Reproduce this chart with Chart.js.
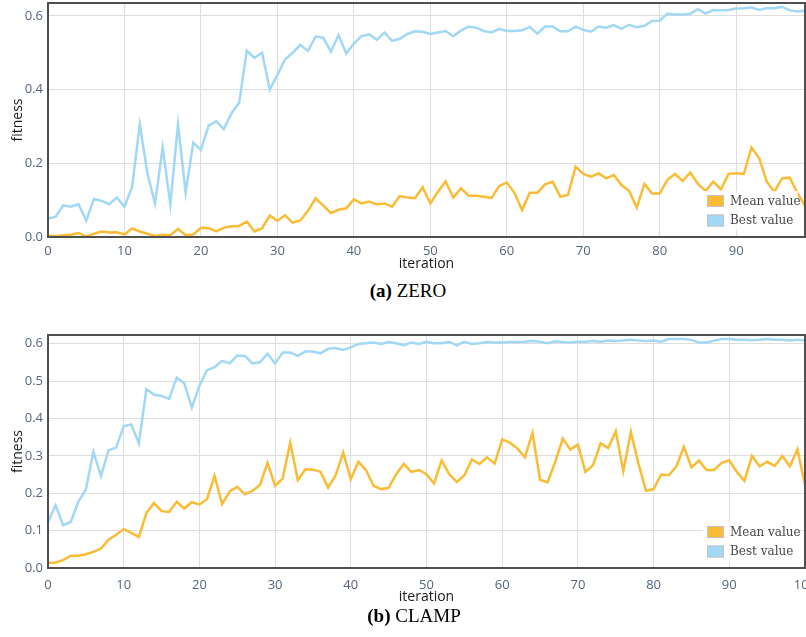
<!DOCTYPE html>
<html>
<head>
<meta charset="utf-8">
<script src="https://cdn.jsdelivr.net/npm/chart.js@4.4.0/dist/chart.umd.min.js"></script>
<style>
  html, body { margin: 0; padding: 0; background: #fff; width: 806px; height: 637px; overflow: hidden; }
  .panel { position: absolute; left: 0; }
  .caption {
    position: absolute; white-space: nowrap; transform: translateX(-50%);
    font-family: "Liberation Serif", "Times New Roman", serif; font-size: 19px; line-height: 1; color: #000;
  }
</style>
</head>
<body>
<div class="panel" style="top:-20px"><canvas id="chartZero" width="830" height="295"></canvas></div>
<div class="caption" style="left:408px; top:281px"><b>(a)</b> ZERO</div>
<div class="panel" style="top:312px"><canvas id="chartClamp" width="830" height="296"></canvas></div>
<div class="caption" style="left:414px; top:606px"><b>(b)</b> CLAMP</div>

<script>
// ---- ZERO run: fitness per iteration ----
const zeroIterations = Array.from({ length: 100 }, (_, i) => i);
const zeroMean = [
  0.004, 0.002, 0.005, 0.006, 0.011, 0.001, 0.009, 0.015, 0.012, 0.013,
  0.007, 0.023, 0.015, 0.009, 0.003, 0.006, 0.005, 0.022, 0.005, 0.007,
  0.025, 0.024, 0.015, 0.025, 0.029, 0.030, 0.042, 0.015, 0.024, 0.058,
  0.044, 0.059, 0.039, 0.045, 0.071, 0.105, 0.085, 0.065, 0.074, 0.078,
  0.102, 0.091, 0.096, 0.088, 0.091, 0.082, 0.111, 0.107, 0.105, 0.135,
  0.091, 0.123, 0.151, 0.107, 0.132, 0.112, 0.112, 0.109, 0.106, 0.138,
  0.148, 0.120, 0.073, 0.120, 0.120, 0.143, 0.150, 0.109, 0.114, 0.191,
  0.171, 0.164, 0.173, 0.159, 0.168, 0.141, 0.125, 0.080, 0.144, 0.118,
  0.118, 0.155, 0.171, 0.152, 0.175, 0.144, 0.125, 0.150, 0.129, 0.171,
  0.173, 0.171, 0.243, 0.214, 0.150, 0.123, 0.159, 0.161, 0.120, 0.085
];
const zeroBest = [
  0.050, 0.055, 0.086, 0.082, 0.089, 0.044, 0.103, 0.098, 0.089, 0.107,
  0.082, 0.136, 0.306, 0.173, 0.091, 0.243, 0.088, 0.306, 0.120, 0.256,
  0.236, 0.302, 0.314, 0.293, 0.336, 0.364, 0.506, 0.486, 0.500, 0.400,
  0.440, 0.482, 0.500, 0.521, 0.505, 0.544, 0.541, 0.503, 0.548, 0.498,
  0.525, 0.545, 0.550, 0.535, 0.555, 0.532, 0.538, 0.551, 0.558, 0.557,
  0.551, 0.555, 0.559, 0.545, 0.560, 0.571, 0.568, 0.559, 0.555, 0.565,
  0.559, 0.559, 0.561, 0.570, 0.552, 0.571, 0.571, 0.558, 0.558, 0.571,
  0.562, 0.557, 0.571, 0.568, 0.575, 0.565, 0.576, 0.569, 0.573, 0.586,
  0.587, 0.606, 0.604, 0.604, 0.606, 0.618, 0.606, 0.616, 0.615, 0.616,
  0.620, 0.621, 0.623, 0.616, 0.621, 0.621, 0.625, 0.615, 0.612, 0.614
];
const zeroXTicks = [0, 10, 20, 30, 40, 50, 60, 70, 80, 90];
const zeroYTicks = [0, 0.2, 0.4, 0.6];

// ---- CLAMP run: fitness per iteration ----
const clampIterations = Array.from({ length: 101 }, (_, i) => i);
const clampMean = [
  0.014, 0.014, 0.021, 0.033, 0.033, 0.037, 0.043, 0.052, 0.076, 0.089,
  0.104, 0.094, 0.083, 0.147, 0.174, 0.152, 0.150, 0.177, 0.159, 0.176,
  0.170, 0.184, 0.246, 0.171, 0.205, 0.217, 0.197, 0.206, 0.222, 0.281,
  0.220, 0.239, 0.335, 0.235, 0.264, 0.263, 0.257, 0.215, 0.248, 0.309,
  0.237, 0.284, 0.262, 0.220, 0.211, 0.214, 0.251, 0.278, 0.257, 0.262,
  0.251, 0.226, 0.288, 0.251, 0.230, 0.248, 0.290, 0.278, 0.296, 0.279,
  0.344, 0.335, 0.320, 0.296, 0.361, 0.236, 0.229, 0.284, 0.346, 0.317,
  0.330, 0.257, 0.275, 0.333, 0.321, 0.366, 0.259, 0.364, 0.279, 0.206,
  0.211, 0.250, 0.248, 0.271, 0.324, 0.269, 0.287, 0.262, 0.262, 0.281,
  0.288, 0.257, 0.233, 0.300, 0.272, 0.284, 0.273, 0.299, 0.272, 0.317,
  0.223
];
const clampBest = [
  0.123, 0.168, 0.114, 0.123, 0.177, 0.210, 0.311, 0.246, 0.315, 0.322,
  0.379, 0.384, 0.333, 0.478, 0.464, 0.460, 0.452, 0.509, 0.494, 0.429,
  0.487, 0.529, 0.537, 0.554, 0.547, 0.568, 0.567, 0.547, 0.550, 0.573,
  0.547, 0.576, 0.576, 0.567, 0.579, 0.579, 0.574, 0.586, 0.588, 0.583,
  0.590, 0.599, 0.601, 0.603, 0.599, 0.604, 0.601, 0.596, 0.603, 0.599,
  0.605, 0.601, 0.601, 0.605, 0.595, 0.605, 0.599, 0.601, 0.604, 0.603,
  0.603, 0.604, 0.604, 0.605, 0.607, 0.605, 0.601, 0.606, 0.604, 0.603,
  0.605, 0.605, 0.607, 0.605, 0.608, 0.607, 0.608, 0.610, 0.608, 0.607,
  0.608, 0.605, 0.612, 0.612, 0.612, 0.610, 0.603, 0.603, 0.608, 0.612,
  0.612, 0.610, 0.610, 0.609, 0.610, 0.612, 0.610, 0.610, 0.608, 0.610,
  0.608
];
const clampXTicks = [0, 10, 20, 30, 40, 50, 60, 70, 80, 90, 100];
const clampYTicks = [0, 0.1, 0.2, 0.3, 0.4, 0.5, 0.6];

const seriesNames = ['Mean value', 'Best value'];
const MEAN_COLOR = '#f9bc34';
const BEST_COLOR = '#a1d8f5';
const TICK_FONT = { family: '"Open Sans", sans-serif', size: 13 };
const TITLE_FONT = { family: '"Open Sans", sans-serif', size: 14 };

// dark frame around the plotting area
const framePlugin = {
  id: 'frame',
  afterDatasetsDraw(chart) {
    const { ctx, chartArea: a } = chart;
    ctx.save();
    ctx.strokeStyle = '#4f4f4f';
    ctx.lineWidth = 2;
    ctx.strokeRect(a.left, a.top, a.right - a.left, a.bottom - a.top);
    ctx.restore();
  }
};

// legend boxes in the lower right corner of the plotting area
const insideLegend = {
  id: 'insideLegend',
  afterDraw(chart) {
    const { ctx, chartArea: a } = chart;
    const boxW = 17, boxH = 12, rowGap = 19.5;
    const x0 = a.right - 98;
    const firstTop = a.bottom - 42;
    const sets = chart.data.datasets;
    ctx.save();
    ctx.fillStyle = 'rgba(255,255,255,0.78)';
    ctx.fillRect(x0 - 4, firstTop - 4, a.right - 7 - (x0 - 4), rowGap * (sets.length - 1) + boxH + 8);
    ctx.font = '12px "DejaVu Serif", serif';
    ctx.textBaseline = 'middle';
    ctx.textAlign = 'left';
    sets.forEach((ds, i) => {
      const top = firstTop + i * rowGap;
      ctx.fillStyle = ds.borderColor;
      ctx.fillRect(x0, top, boxW, boxH);
      ctx.strokeStyle = '#c4c4c4';
      ctx.lineWidth = 1;
      ctx.strokeRect(x0 + 0.5, top + 0.5, boxW - 1, boxH - 1);
      ctx.fillStyle = '#474747';
      ctx.fillText(ds.label, x0 + boxW + 6, top + boxH / 2 + 0.5);
    });
    ctx.restore();
  }
};

function makeChart(id, labels, mean, best, xMax, yMax, xTicks, yTicks, xTickPad, xAxisHeight) {
  return new Chart(document.getElementById(id), {
    type: 'line',
    data: {
      labels: labels,
      datasets: [
        { label: seriesNames[0], data: mean, borderColor: MEAN_COLOR, backgroundColor: MEAN_COLOR,
          borderWidth: 2.5, pointRadius: 0, tension: 0, fill: false },
        { label: seriesNames[1], data: best, borderColor: BEST_COLOR, backgroundColor: BEST_COLOR,
          borderWidth: 2.5, pointRadius: 0, tension: 0, fill: false }
      ]
    },
    options: {
      responsive: false,
      animation: false,
      layout: { padding: { top: 23, right: 25, bottom: 0, left: 0 } },
      plugins: { legend: { display: false }, tooltip: { enabled: false } },
      scales: {
        x: {
          type: 'linear', min: 0, max: xMax,
          afterBuildTicks: s => { s.ticks = xTicks.map(v => ({ value: v })); },
          afterFit: s => { s.height = xAxisHeight; },
          grid: { color: '#dedede', lineWidth: 1, drawTicks: false },
          border: { display: false },
          ticks: { font: TICK_FONT, color: '#56657d', padding: xTickPad, maxRotation: 0 },
          title: { display: true, text: 'iteration', font: TITLE_FONT, color: '#1a1a1a',
                   padding: { top: 0, bottom: 3 } }
        },
        y: {
          min: 0, max: yMax,
          afterBuildTicks: s => { s.ticks = yTicks.map(v => ({ value: v })); },
          afterFit: s => { s.width = 48; },
          grid: { color: '#dedede', lineWidth: 1, drawTicks: false },
          border: { display: false },
          ticks: { font: TICK_FONT, color: '#56657d', padding: 5, callback: v => v.toFixed(1) },
          title: { display: true, text: 'fitness', font: TITLE_FONT, color: '#1a1a1a',
                   padding: { top: 10, bottom: 0 } }
        }
      }
    },
    plugins: [framePlugin, insideLegend]
  });
}

makeChart('chartZero', zeroIterations, zeroMean, zeroBest, 99, 0.635, zeroXTicks, zeroYTicks, 6, 38);
makeChart('chartClamp', clampIterations, clampMean, clampBest, 100, 0.623, clampXTicks, clampYTicks, 9, 40);
</script>
</body>
</html>
